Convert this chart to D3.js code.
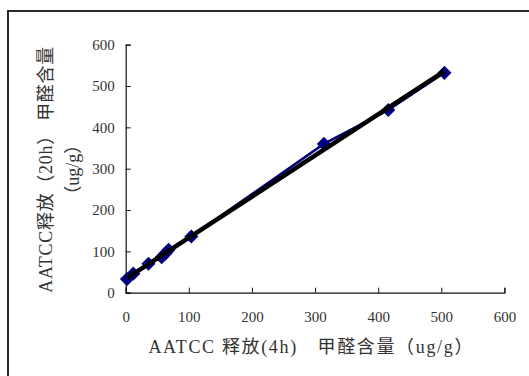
<!DOCTYPE html>
<html>
<head>
<meta charset="utf-8">
<script src="https://cdn.jsdelivr.net/npm/d3@7"></script>
<style>
  html, body { margin: 0; padding: 0; background: #fff; }
  svg { display: block; }
</style>
</head>
<body>
<svg id="chart" width="529" height="376"></svg>
<script>
// Data
const xValues = [2, 12, 36, 57, 63, 68, 104, 314, 416, 505];
const yValues = [33, 46, 70, 86, 95, 104, 136, 360, 442, 532];
const xTicks = [0, 100, 200, 300, 400, 500, 600];
const yTicks = [0, 100, 200, 300, 400, 500, 600];
const xLabel = "AATCC 释放(4h)　甲醛含量（ug/g）";
const yLabelLines = ["AATCC释放（20h） 甲醛含量", "（ug/g）"];

const plot = { left: 125.7, right: 504.4, top: 44.7, bottom: 292.7 };
const svg = d3.select("#chart");
const serifCss = "\"Liberation Serif\", \"Noto Sans CJK SC\", serif";

// frame
svg.append("rect")
  .attr("x", 8).attr("y", 11)
  .attr("width", 600).attr("height", 500)
  .attr("fill", "none").attr("stroke", "#2a2a2a").attr("stroke-width", 2);

const x = d3.scaleLinear().domain([0, 600]).range([plot.left, plot.right]);
const y = d3.scaleLinear().domain([0, 600]).range([plot.bottom, plot.top]);

// axes with inside ticks
const xAxis = svg.append("g")
  .attr("transform", `translate(0,${plot.bottom})`)
  .call(d3.axisBottom(x).tickValues(xTicks).tickSize(-5).tickPadding(19).tickFormat(d3.format("d")));
const yAxis = svg.append("g")
  .attr("transform", `translate(${plot.left},0)`)
  .call(d3.axisLeft(y).tickValues(yTicks).tickSize(-5).tickPadding(11).tickFormat(d3.format("d")));
[xAxis, yAxis].forEach(g => {
  g.select(".domain").attr("stroke", "#111").attr("stroke-width", 1.2);
  g.selectAll(".tick line").attr("stroke", "#111").attr("stroke-width", 1);
  g.selectAll(".tick text").attr("fill", "#333")
    .style("font-family", serifCss).style("font-size", "15px");
});

const data = xValues.map((v, i) => ({ x: v, y: yValues[i] }));

// series line
svg.append("path")
  .datum(data)
  .attr("fill", "none").attr("stroke", "#000080").attr("stroke-width", 2.5)
  .attr("d", d3.line().x(d => x(d.x)).y(d => y(d.y)));

// diamond markers
svg.append("g").selectAll("path")
  .data(data).join("path")
  .attr("transform", d => `translate(${x(d.x)},${y(d.y)}) rotate(45)`)
  .attr("d", d3.symbol(d3.symbolSquare, 100))
  .attr("fill", "#000080");

// linear trendline (least squares)
const mx = d3.mean(xValues), my = d3.mean(yValues);
const slope = d3.sum(data, d => (d.x - mx) * (d.y - my)) / d3.sum(data, d => (d.x - mx) ** 2);
const intercept = my - slope * mx;
const xr = d3.extent(xValues);
svg.append("path")
  .datum(xr.map(v => ({ x: v, y: intercept + slope * v })))
  .attr("fill", "none").attr("stroke", "#000").attr("stroke-width", 4.5)
  .attr("d", d3.line().x(d => x(d.x)).y(d => y(d.y)));

// x axis title
svg.append("text")
  .attr("x", 148.4).attr("y", 353)
  .attr("textLength", 324).attr("lengthAdjust", "spacing")
  .attr("fill", "#333")
  .style("font-family", serifCss).style("font-size", "18px")
  .text(xLabel);

// y axis title (two lines rotated)
const yt = svg.append("text")
  .attr("transform", "translate(0,169.7) rotate(-90)")
  .attr("text-anchor", "middle")
  .attr("fill", "#333")
  .style("font-family", serifCss).style("font-size", "18px");
yt.append("tspan").attr("x", 0).attr("y", 52).attr("textLength", 246).attr("lengthAdjust", "spacing").text(yLabelLines[0]);
yt.append("tspan").attr("x", 0).attr("y", 79).text(yLabelLines[1]);
</script>
</body>
</html>
